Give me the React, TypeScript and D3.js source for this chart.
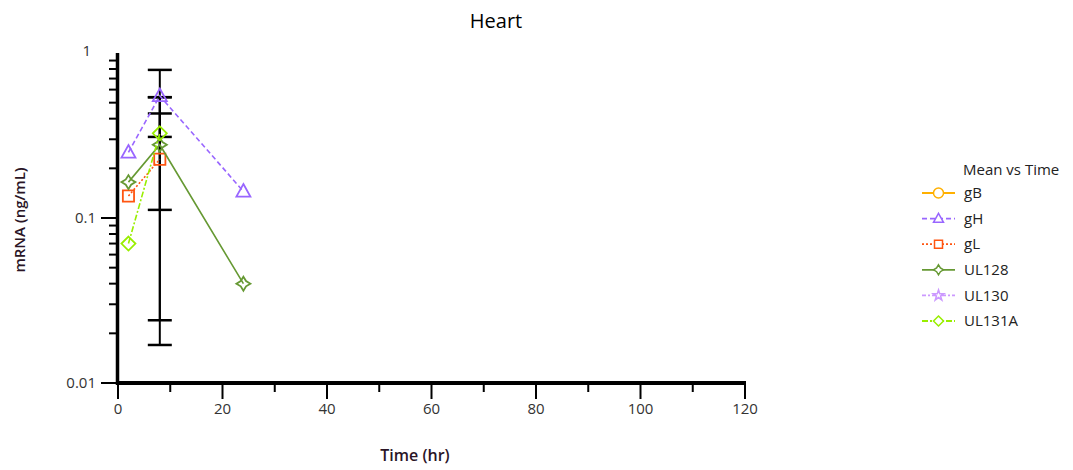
import React from "react";
import * as d3 from "d3";

// sampling times (hr)
const times = [2, 8, 24];

// mean values per analyte (ng/mL), null = no sample
const gB: (number | null)[] = [null, null, null];
const gH: (number | null)[] = [0.25, 0.55, 0.145];
const gL: (number | null)[] = [0.136, 0.227, null];
const UL128: (number | null)[] = [0.165, 0.278, 0.04];
const UL130: (number | null)[] = [null, null, null];
const UL131A: (number | null)[] = [0.07, 0.326, null];

// standard deviations
const gH_sd: (number | null)[] = [null, 0.24, null];
const gL_sd: (number | null)[] = [null, 0.203, null];
const UL128_sd: (number | null)[] = [null, 0.261, null];
const UL131A_sd: (number | null)[] = [null, 0.214, null];

const xTicks = [0, 20, 40, 60, 80, 100, 120];
const yTicks = [0.01, 0.1, 1];

const FONT = "'Open Sans', 'Noto Sans', sans-serif";

type Series = {
  name: string;
  values: (number | null)[];
  sd: (number | null)[] | null;
  color: string;
  dash: string;
  marker: string;
};

const seriesList: Series[] = [
  { name: "gB", values: gB, sd: null, color: "#FFB000", dash: "", marker: "circle" },
  { name: "gH", values: gH, sd: gH_sd, color: "#9966FF", dash: "5,3", marker: "triangle" },
  { name: "gL", values: gL, sd: gL_sd, color: "#FF5511", dash: "2,2", marker: "square" },
  { name: "UL128", values: UL128, sd: UL128_sd, color: "#669933", dash: "", marker: "star4" },
  { name: "UL130", values: UL130, sd: null, color: "#CC99FF", dash: "4,2,2,2", marker: "star" },
  { name: "UL131A", values: UL131A, sd: UL131A_sd, color: "#99EE00", dash: "6,2,2,2", marker: "diamond" },
];

const markerPath = (kind: string, r: number) => {
  switch (kind) {
    case "circle":
      return d3.symbol(d3.symbolCircle, Math.PI * r * r)()!;
    case "triangle":
      return `M0,${-r * 1.05}L${r},${r * 0.75}L${-r},${r * 0.75}Z`;
    case "square":
      return `M${-r * 0.8},${-r * 0.8}H${r * 0.8}V${r * 0.8}H${-r * 0.8}Z`;
    case "star4": {
      const a = r * 0.38;
      return `M0,${-r}L${a},${-a}L${r},0L${a},${a}L0,${r}L${-a},${a}L${-r},0L${-a},${-a}Z`;
    }
    case "star":
      return d3.symbol(d3.symbolStar, r * r * 1.4)()!;
    default:
      return `M0,${-r}L${r},0L0,${r}L${-r},0Z`;
  }
};

const App = () => {
  const x = d3.scaleLinear().domain([0, 120]).range([118, 745]);
  const y = d3.scaleLog().domain([0.01, 1]).range([383, 53]);

  const minorY: number[] = [];
  [0.01, 0.1].forEach((d) => {
    for (let k = 2; k <= 9; k++) minorY.push(d * k);
  });
  const minorX = d3.range(10, 120, 20);

  const line = d3
    .line<[number, number | null]>()
    .defined((d) => d[1] != null)
    .x((d) => x(d[0]))
    .y((d) => y(d[1] as number));

  return (
    <svg
      width={1073}
      height={470}
      style={{ position: "absolute", left: 0, top: 0, background: "#fff" }}
      fontFamily={FONT}
    >
      <text x={496} y={28} textAnchor="middle" fontSize={20} fill="#000">
        Heart
      </text>

      {/* y axis */}
      <line x1={117.5} x2={117.5} y1={53} y2={385} stroke="#000" strokeWidth={3.5} />
      {minorY.map((d) => (
        <line key={"my" + d} x1={109} x2={117} y1={y(d)} y2={y(d)} stroke="#000" strokeWidth={2} />
      ))}
      {yTicks.map((d) => (
        <g key={"y" + d}>
          {d < 1 && <line x1={101} x2={117} y1={y(d)} y2={y(d)} stroke="#000" strokeWidth={2} />}
          <text
            x={d === 1 ? 91 : 96}
            y={y(d) + (d === 1 ? -2 : 0)}
            dy="0.35em"
            textAnchor="end"
            fontSize={15}
            fill="#333"
          >
            {d === 1 ? "1" : d3.format("")(d)}
          </text>
        </g>
      ))}

      {/* x axis */}
      <line x1={116} x2={746} y1={383} y2={383} stroke="#000" strokeWidth={4} />
      {xTicks.map((d) => (
        <g key={"x" + d}>
          <line x1={x(d)} x2={x(d)} y1={383} y2={399} stroke="#000" strokeWidth={2} />
          <text x={x(d)} y={414} textAnchor="middle" fontSize={15} fill="#333">
            {d}
          </text>
        </g>
      ))}
      {minorX.map((d) => (
        <line key={"mx" + d} x1={x(d)} x2={x(d)} y1={383} y2={392} stroke="#000" strokeWidth={2} />
      ))}

      <text x={415} y={461} textAnchor="middle" fontSize={16} fontWeight={600} fill="#2a1526">
        Time (hr)
      </text>
      <text
        transform="translate(25,220) rotate(-90)"
        textAnchor="middle"
        fontSize={15}
        fontWeight={600}
        fill="#2a1526"
      >
        mRNA (ng/mL)
      </text>

      {/* error bars */}
      {seriesList.map((s) =>
        s.sd
          ? times.map((t, i) => {
              const m = s.values[i];
              const sd = s.sd![i];
              if (m == null || sd == null) return null;
              const lo = y(Math.max(m - sd, 0.0101));
              const hi = y(m + sd);
              return (
                <g key={s.name + "e" + i} stroke="#000" strokeWidth={2}>
                  <line x1={x(t)} x2={x(t)} y1={lo} y2={hi} />
                  <line x1={x(t) - 12} x2={x(t) + 12} y1={lo} y2={lo} strokeWidth={2.5} />
                  <line x1={x(t) - 12} x2={x(t) + 12} y1={hi} y2={hi} strokeWidth={2.5} />
                </g>
              );
            })
          : null
      )}

      {/* series */}
      {seriesList.map((s) => (
        <g key={s.name}>
          <path
            d={line(times.map((t, i) => [t, s.values[i]] as [number, number | null])) || ""}
            fill="none"
            stroke={s.color}
            strokeWidth={1.6}
            strokeDasharray={s.dash}
          />
          {times.map((t, i) =>
            s.values[i] == null ? null : (
              <path
                key={i}
                d={markerPath(s.marker, 7)}
                transform={`translate(${x(t)},${y(s.values[i] as number)})`}
                fill="none"
                stroke={s.color}
                strokeWidth={1.8}
              />
            )
          )}
        </g>
      ))}

      {/* legend */}
      <text x={963} y={175} fontSize={15} fill="#222">
        Mean vs Time
      </text>
      {seriesList.map((s, i) => {
        const ly = 193 + i * 25.6;
        return (
          <g key={"l" + s.name}>
            <line x1={922} x2={955} y1={ly} y2={ly} stroke={s.color} strokeWidth={1.8} strokeDasharray={s.dash} />
            <path
              d={markerPath(s.marker, 5)}
              transform={`translate(938.5,${ly})`}
              fill="#fff"
              stroke={s.color}
              strokeWidth={1.5}
            />
            <text x={964} y={ly} dy="0.35em" fontSize={15} fill="#222">
              {s.name}
            </text>
          </g>
        );
      })}
    </svg>
  );
};

export default App;
